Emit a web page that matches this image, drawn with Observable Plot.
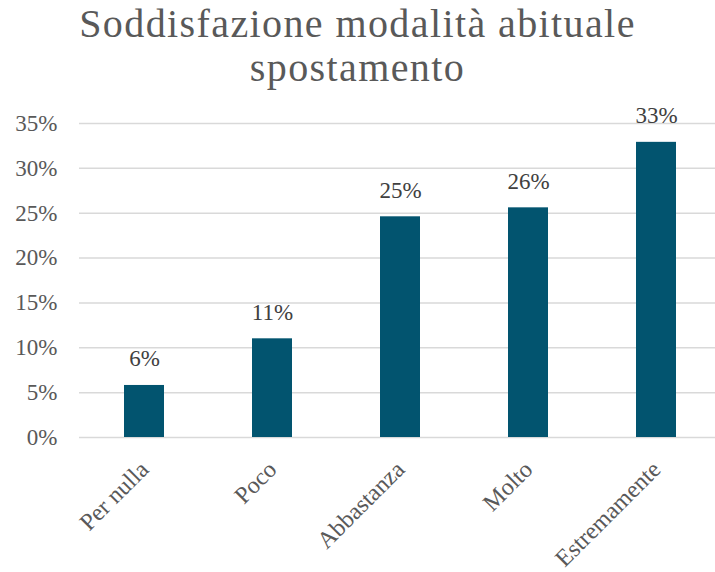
<!DOCTYPE html>
<html>
<head>
<meta charset="utf-8">
<script src="https://cdn.jsdelivr.net/npm/d3@7"></script>
<script src="https://cdn.jsdelivr.net/npm/@observablehq/plot@0.6"></script>
<style>
  body { margin: 0; background: #fff; }
  #wrap { width: 715px; height: 572px; position: relative; overflow: hidden; }
  #title { height: 100px; box-sizing: border-box; padding-top: 2px; text-align: center;
    font-family: "Liberation Serif", "Times New Roman", Times, "DejaVu Serif"; font-size: 40px; line-height: 44px;
    letter-spacing: 1.4px; color: #595959; }
  #chart svg, #chart svg text { font-family: "Liberation Serif", "Times New Roman", Times, "DejaVu Serif" !important; }
</style>
</head>
<body>
<div id="wrap">
  <div id="title">Soddisfazione modalità abituale<br>spostamento</div>
  <div id="chart"></div>
</div>
<script>
const categories = ["Per nulla", "Poco", "Abbastanza", "Molto", "Estremamente"];
const values = [0.058, 0.110, 0.246, 0.256, 0.329];
const valueLabels = ["6%", "11%", "25%", "26%", "33%"];
const yTicks = [0, 0.05, 0.10, 0.15, 0.20, 0.25, 0.30, 0.35];

const data = categories.map((c, i) => ({cat: c, v: values[i], lab: valueLabels[i]}));

const chart = Plot.plot({
  width: 715,
  height: 472,
  marginTop: 23,
  marginBottom: 135,
  marginLeft: 79,
  marginRight: 0,
  style: {fontSize: "23px", color: "#595959", background: "#fff"},
  x: {domain: categories, range: [79, 721], paddingInner: 0.69, paddingOuter: 0.345, label: null},
  y: {domain: [0, 0.35], label: null},
  marks: [
    Plot.ruleY(yTicks, {stroke: "#d9d9d9", strokeWidth: 1.5}),
    Plot.axisY({ticks: yTicks, tickFormat: d => Math.round(d * 100) + "%", tickSize: 0, tickPadding: 22, label: null, fill: "#595959", fontSize: 23}),
    Plot.axisX({tickSize: 0, tickRotate: -45, tickPadding: 28, label: null, fill: "#595959", fontSize: 24}),
    Plot.barY(data, {x: "cat", y: "v", fill: "#02546f"}),
    Plot.text(data, {x: "cat", y: "v", text: "lab", dy: -19, lineAnchor: "bottom", fill: "#404040", fontSize: 23})
  ]
});
document.getElementById("chart").appendChild(chart);
</script>
</body>
</html>
